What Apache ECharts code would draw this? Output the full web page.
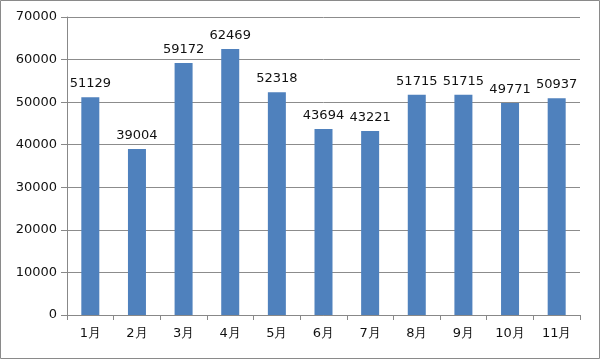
<!DOCTYPE html>
<html><head><meta charset="utf-8">
<script src="https://cdn.jsdelivr.net/npm/echarts@6/dist/echarts.min.js"></script>
<style>html,body{margin:0;padding:0;background:#fff}#c{width:600px;height:360px}</style>
</head><body><div id="c"></div>
<script>
const categories = ['1月','2月','3月','4月','5月','6月','7月','8月','9月','10月','11月'];
const values = [51129, 39004, 59172, 62469, 52318, 43694, 43221, 51715, 51715, 49771, 50937];
const yTicks = [0, 10000, 20000, 30000, 40000, 50000, 60000, 70000];

const chart = echarts.init(document.getElementById('c'));
chart.setOption({
  animation: false,
  backgroundColor: '#fff',
  graphic: [{type:'rect', shape:{x:0.5,y:0.5,width:599,height:358}, style:{fill:'none', stroke:'#8a8a8a', lineWidth:1}}],
  grid: {left: 67, right: 20, top: 17, bottom: 45},
  xAxis: {
    type: 'category', data: categories,
    axisLine: {lineStyle: {color: '#888', width: 1}},
    axisTick: {show: true, length: 5, lineStyle: {color: '#888'}},
    axisLabel: {color: '#111', fontSize: 13, margin: 12, fontFamily: 'DejaVu Sans'}
  },
  yAxis: {
    type: 'value', min: yTicks[0], max: yTicks[yTicks.length-1], interval: 10000,
    axisLine: {show: true, lineStyle: {color: '#888'}},
    axisTick: {show: true, length: 6, lineStyle: {color: '#888'}},
    splitLine: {lineStyle: {color: '#8c8c8c', width: 1}},
    axisLabel: {color: '#111', fontSize: 13, margin: 10, fontFamily: 'DejaVu Sans', formatter: v => String(v)}
  },
  series: [{
    type: 'bar', data: values, barWidth: 18,
    itemStyle: {color: '#4f81bd'},
    label: {show: true, position: 'top', distance: 7, color: '#111', fontSize: 13, fontFamily: 'DejaVu Sans'}
  }]
});
</script></body></html>
